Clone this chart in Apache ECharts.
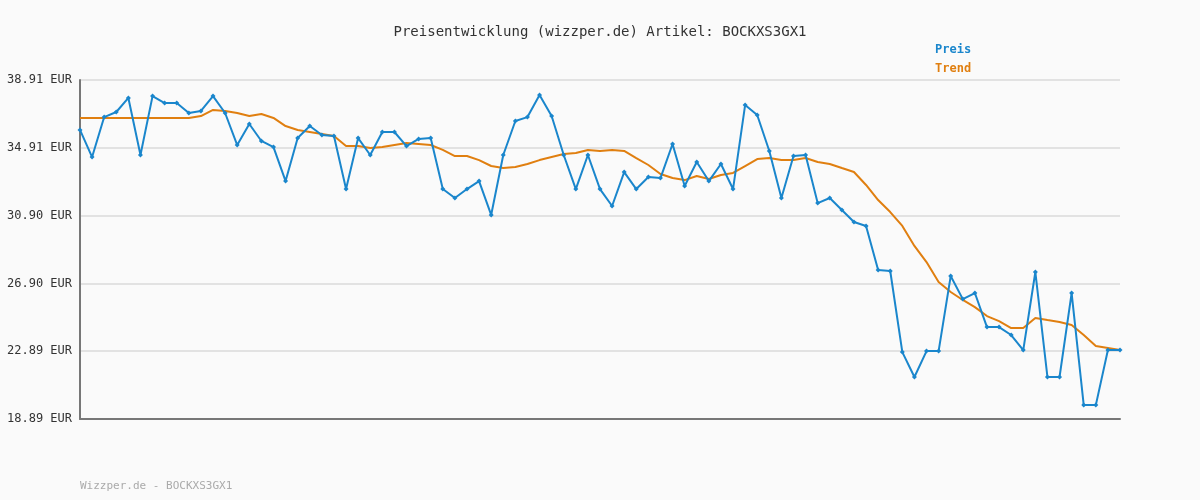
<!DOCTYPE html>
<html>
<head>
<meta charset="utf-8">
<script src="https://cdn.jsdelivr.net/npm/echarts@6/dist/echarts.min.js"></script>
<style>
  html, body { margin: 0; padding: 0; background: #fafafa; }
  #chart { width: 1200px; height: 500px; }
</style>
</head>
<body>
<div id="chart"></div>
<script>
  'use strict';

  // Preis
  var preis = [
    35.96, 34.36, 36.72, 37.02, 37.85, 34.48, 37.96, 37.55, 37.55, 36.96,
    37.08, 37.96, 36.96, 35.07, 36.31, 35.31, 34.95, 32.94, 35.48, 36.19,
    35.66, 35.60, 32.47, 35.48, 34.48, 35.84, 35.84, 35.01, 35.43, 35.48,
    32.47, 31.94, 32.47, 32.94, 30.94, 34.48, 36.49, 36.72, 38.02, 36.78,
    34.48, 32.47, 34.48, 32.47, 31.47, 33.47, 32.47, 33.18, 33.12, 35.13,
    32.65, 34.07, 32.94, 33.95, 32.47, 37.43, 36.84, 34.72, 31.94, 34.42,
    34.48, 31.64, 31.94, 31.23, 30.52, 30.29, 27.69, 27.63, 22.84, 21.37,
    22.90, 22.90, 27.33, 25.97, 26.33, 24.32, 24.32, 23.85, 22.96, 27.57,
    21.37, 21.37, 26.33, 19.71, 19.71, 22.96, 22.96
  ];

  var trend = [
    36.67, 36.67, 36.67, 36.67, 36.67, 36.67, 36.67, 36.67, 36.67, 36.67,
    36.78, 37.14, 37.08, 36.96, 36.78, 36.90, 36.67, 36.19, 35.96, 35.84,
    35.72, 35.60, 35.01, 35.01, 34.89, 34.95, 35.07, 35.19, 35.13, 35.07,
    34.78, 34.42, 34.42, 34.18, 33.83, 33.71, 33.77, 33.95, 34.18, 34.36,
    34.54, 34.60, 34.78, 34.72, 34.78, 34.72, 34.30, 33.89, 33.36, 33.12,
    33.00, 33.24, 33.06, 33.30, 33.42, 33.83, 34.24, 34.30, 34.18, 34.18,
    34.30, 34.07, 33.95, 33.71, 33.48, 32.71, 31.82, 31.11, 30.29, 29.11,
    28.16, 26.98, 26.39, 25.92, 25.50, 24.97, 24.67, 24.26, 24.26, 24.85,
    24.73, 24.62, 24.44, 23.85, 23.20, 23.08, 22.96
  ];

  var days = preis.map(function (v, i) { return String(i + 1); });

  var chart = echarts.init(document.getElementById('chart'));
  var mono = 'DejaVu Sans Mono';

  chart.setOption({
    backgroundColor: '#fafafa',
    animation: false,
    textStyle: { fontFamily: mono },
    title: {
      text: 'Preisentwicklung (wizzper.de) Artikel: BOCKXS3GX1',
      left: 'center', top: 20,
      textStyle: { fontFamily: mono, fontSize: 14, fontWeight: 'normal', color: '#333' }
    },
    legend: {
      orient: 'vertical', left: 925, top: 38, itemGap: 6,
      icon: 'none', itemWidth: 0,
      textStyle: { fontFamily: mono, fontSize: 12, fontWeight: 'bold' },
      data: [
        { name: 'Preis', textStyle: { color: '#1a86cc' } },
        { name: 'Trend', textStyle: { color: '#e07f10' } }
      ]
    },
    graphic: [{
      type: 'text', left: 80, top: 481,
      style: { text: 'Wizzper.de - BOCKXS3GX1', fill: '#aaa', font: '11px ' + mono }
    }],
    grid: { left: 80, right: 80, top: 80, bottom: 81 },
    xAxis: {
      type: 'category', data: days, boundaryGap: false,
      axisLine: { lineStyle: { color: '#777', width: 2 } },
      axisTick: { show: false }, axisLabel: { show: false }
    },
    yAxis: {
      type: 'value', min: 18.89, max: 38.91, interval: 4.004,
      axisLine: { show: true, lineStyle: { color: '#777', width: 2 } },
      axisTick: { show: false },
      axisLabel: {
        fontFamily: mono, fontSize: 12, color: '#333', margin: 8,
        formatter: function (v) { return v.toFixed(2) + ' EUR'; }
      },
      splitLine: { lineStyle: { color: '#e2e2e2', width: 2 } }
    },
    series: [
      {
        name: 'Trend', type: 'line', data: trend, showSymbol: false,
        lineStyle: { color: '#e07f10', width: 2 }, itemStyle: { color: '#e07f10' }
      },
      {
        name: 'Preis', type: 'line', data: preis,
        symbol: 'diamond', symbolSize: 5,
        lineStyle: { color: '#1a86cc', width: 2 }, itemStyle: { color: '#1a86cc' }
      }
    ]
  });
</script>
</body>
</html>
